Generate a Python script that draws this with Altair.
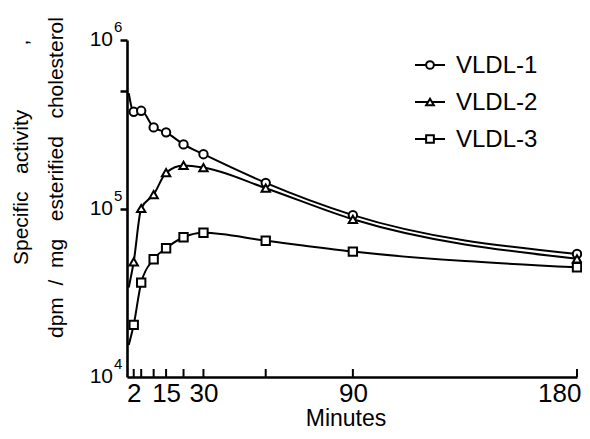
import altair as alt
import pandas as pd

# ---------------- data ----------------
minutes = [2, 5, 10, 15, 22, 30, 55, 90, 180]
vldl1 = [375000, 380000, 303000, 283000, 240000, 210000, 142000, 91400, 53700]
vldl2 = [48300, 100000, 121000, 163000, 180000, 175000, 132000, 86300, 50300]
vldl3 = [20400, 36300, 50000, 58100, 67500, 71800, 64400, 55500, 44800]
# value where each fitted curve meets the y axis (t = 0)
curve_start = [483000, 34000, 15500]
series = ["VLDL-1", "VLDL-2", "VLDL-3"]
shapes = ["circle", "triangle-up", "square"]

x_labels = [2, 15, 30, 90, 180]
x_ticks = [2, 5, 10, 15, 22, 30, 55, 90, 180]
y_decades = [10000, 100000, 1000000]
y_exponents = ["4", "5", "6"]
y_ticks = [100000, 500000, 1000000]

NB = "\u00a0"
title_y1 = "Specific" + NB * 3 + "activity" + NB * 11 + ","
title_y2 = "dpm" + NB * 2 + "/" + NB * 2 + "mg" + NB * 3 + "esterified" + NB * 3 + "cholesterol"
title_x = "Minutes"

# ---------------- tables ----------------
values = [vldl1, vldl2, vldl3]
pts = pd.DataFrame(
    [{"t": t, "v": v, "series": s} for s, vals in zip(series, values) for t, v in zip(minutes, vals)]
)
curves = pd.DataFrame(
    [{"t": 0, "v": c, "series": s} for s, c in zip(series, curve_start)]
    + [{"t": t, "v": v, "series": s} for s, vals in zip(series, values) for t, v in zip(minutes, vals)]
)
ticks_df = pd.DataFrame({"t": x_ticks})
ylab_df = pd.DataFrame({"v": y_decades, "e": y_exponents})

FONT = '"Liberation Sans", Arial, sans-serif'
W, H = 450, 337

xs = alt.Scale(domain=[-0.7, 180], nice=False, zero=False)
ys = alt.Scale(type="log", domain=[1e4, 1e6], nice=False)

x_axis = alt.Axis(values=x_labels, ticks=False, grid=False, title=None,
                  labelFont=FONT, labelFontSize=26, labelColor="black",
                  labelPadding=3, labelFlush=True, labelFlushOffset=4, labelOverlap=False,
                  domainColor="black", domainWidth=2.6)
y_axis = alt.Axis(values=y_ticks, labels=False, grid=False, title=None,
                  tickSize=7, tickWidth=2.5, tickColor="black",
                  domainColor="black", domainWidth=2.6)


def X():
    return alt.X("t:Q", scale=xs, axis=x_axis)


def Y():
    return alt.Y("v:Q", scale=ys, axis=y_axis)


lines = alt.Chart(curves).mark_line(interpolate="monotone", color="black", strokeWidth=2).encode(
    x=X(), y=Y(), detail="series:N",
)

points = alt.Chart(pts).mark_point(filled=True, fill="white", stroke="black", strokeWidth=2,
                                   size=70, opacity=1).encode(
    x=X(), y=Y(),
    shape=alt.Shape("series:N", scale=alt.Scale(domain=series, range=shapes), legend=None),
)

inner_ticks = alt.Chart(ticks_df).mark_rule(color="black", strokeWidth=2).encode(
    x=X(),
    y=alt.value(H - 8),
    y2=alt.value(H),
)

ylab_base = alt.Chart(ylab_df).mark_text(font=FONT, fontSize=21, align="right",
                                         baseline="alphabetic", dy=6, color="black").encode(
    x=alt.value(-14),
    y=Y(),
    text=alt.value("10"),
)
ylab_exp = alt.Chart(ylab_df).mark_text(font=FONT, fontSize=15, align="left",
                                        baseline="alphabetic", dy=-8, color="black").encode(
    x=alt.value(-13),
    y=Y(),
    text="e:N",
)

# legend (manual, line + marker + label)
legend_layers = []
for i, (s, sh) in enumerate(zip(series, shapes)):
    cy = 25 + 37 * i
    one = pd.DataFrame({"series": [s]})
    legend_layers.append(alt.Chart(one).mark_rule(color="black", strokeWidth=2).encode(
        x=alt.value(288), x2=alt.value(318), y=alt.value(cy)))
    legend_layers.append(alt.Chart(one).mark_point(filled=True, fill="white", stroke="black",
                                                   strokeWidth=2, size=60, opacity=1, shape=sh).encode(
        x=alt.value(303), y=alt.value(cy)))
    legend_layers.append(alt.Chart(one).mark_text(font=FONT, fontSize=24, align="left",
                                                  baseline="alphabetic", color="black").encode(
        x=alt.value(329), y=alt.value(cy + 8), text="series:N"))

one_row = pd.DataFrame({"a": [0]})
ytitle1 = alt.Chart(one_row).mark_text(font=FONT, fontSize=21, angle=270, align="left",
                                       baseline="alphabetic", color="black").encode(
    x=alt.value(-99), y=alt.value(225), text=alt.value(title_y1))
ytitle2 = alt.Chart(one_row).mark_text(font=FONT, fontSize=21, angle=270, align="left",
                                       baseline="alphabetic", color="black").encode(
    x=alt.value(-64), y=alt.value(298), text=alt.value(title_y2))
xtitle = alt.Chart(one_row).mark_text(font=FONT, fontSize=23, align="center",
                                      baseline="alphabetic", color="black").encode(
    x=alt.value(219), y=alt.value(386), text=alt.value(title_x))

chart = alt.layer(
    lines, points, inner_ticks, ylab_base, ylab_exp, *legend_layers, ytitle1, ytitle2, xtitle
).properties(
    width=W, height=H,
    padding={"left": 119, "top": 32, "right": 5, "bottom": 54},
    autosize=alt.AutoSizeParams(type="none"),
    background="white",
).configure_view(stroke=None)

chart.save("out.html", embed_options={"renderer": "svg", "actions": False})
